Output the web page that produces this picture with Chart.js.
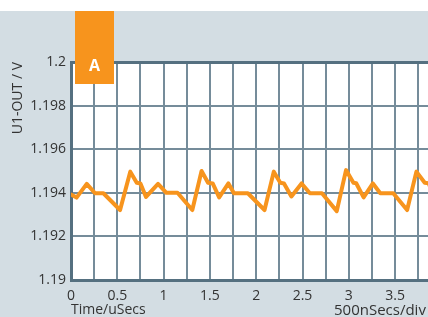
<!DOCTYPE html>
<html>
<head>
<meta charset="utf-8">
<script src="https://cdn.jsdelivr.net/npm/chart.js@4.4.0/dist/chart.umd.min.js"></script>
<style>
  html, body { margin: 0; padding: 0; background: #ffffff; overflow: hidden; width: 428px; height: 317px; }
  #wrap { position: absolute; left: 0; top: 0; width: 560px; height: 317px; }
  canvas { display: block; }
</style>
</head>
<body>
<div id="wrap"><canvas id="c" width="560" height="317"></canvas></div>
<script>
// ---- data ----
const times = [0.00, 0.06, 0.17, 0.26, 0.35, 0.53, 0.64, 0.71, 0.75, 0.81,
               0.94, 1.03, 1.15, 1.31, 1.41, 1.48, 1.53, 1.60, 1.70,
               1.76, 1.91, 2.09, 2.19, 2.26, 2.30, 2.38, 2.49,
               2.58, 2.71, 2.87, 2.97, 3.05, 3.08, 3.16, 3.26,
               3.34, 3.48, 3.63, 3.73, 3.82, 3.86, 3.93, 4.03];
const volts = [1.19392, 1.19378, 1.19441, 1.19398, 1.19398, 1.19321, 1.19497, 1.19446, 1.19443, 1.19381,
               1.19441, 1.19400, 1.19400, 1.19321, 1.19500, 1.19446, 1.19443, 1.19379, 1.19443,
               1.19398, 1.19398, 1.19321, 1.19497, 1.19446, 1.19443, 1.19383, 1.19443,
               1.19398, 1.19398, 1.19316, 1.19504, 1.19446, 1.19444, 1.19379, 1.19443,
               1.19398, 1.19398, 1.19321, 1.19497, 1.19446, 1.19444, 1.19380, 1.19443];
const xTickLabels = ['0', '0.5', '1', '1.5', '2', '2.5', '3', '3.5', '4', '4.5', '5'];
const yTickLabels = ['1.19', '1.192', '1.194', '1.196', '1.198', '1.2'];
const xTitle = 'Time/uSecs';
const xTitleRight = '500nSecs/div';
const yTitle = 'U1-OUT / V';
const markerLabel = 'A';

const ORANGE = '#f7941d';
const FRAME = '#557080';
const GRID = '#758c9a';
const TEXT = '#333333';
const BG = '#d3dde3';
const FONT = "'Open Sans', 'Noto Sans', sans-serif";

const points = times.map((t, i) => ({ x: t, y: volts[i] }));

const decor = {
  id: 'decor',
  beforeDraw(chart) {
    const ctx = chart.ctx;
    const a = chart.chartArea;
    ctx.save();
    ctx.fillStyle = '#ffffff';
    ctx.fillRect(0, 0, chart.width, chart.height);
    ctx.fillStyle = BG;
    ctx.fillRect(0, 11, chart.width, chart.height - 11);
    ctx.fillStyle = '#ffffff';
    ctx.fillRect(a.left, a.top, a.right - a.left, a.bottom - a.top);
    ctx.restore();
  },
  afterDraw(chart) {
    const ctx = chart.ctx;
    ctx.save();
    // marker box
    ctx.fillStyle = ORANGE;
    ctx.fillRect(75, 11, 39, 73);
    ctx.fillStyle = '#ffffff';
    ctx.font = "bold 16px " + FONT;
    ctx.textAlign = 'center';
    ctx.textBaseline = 'middle';
    ctx.fillText(markerLabel, 94.5, 66);
    // right x caption
    ctx.fillStyle = TEXT;
    ctx.font = "15px " + FONT;
    ctx.textAlign = 'left';
    ctx.textBaseline = 'alphabetic';
    ctx.fillText(xTitleRight, 334, 315);
    ctx.restore();
  }
};

new Chart(document.getElementById('c'), {
  type: 'line',
  data: {
    datasets: [{
      data: points,
      borderColor: ORANGE,
      borderWidth: 4,
      pointRadius: 0,
      tension: 0,
      fill: false,
      borderJoinStyle: 'round',
      borderCapStyle: 'round'
    }]
  },
  options: {
    responsive: false,
    animation: false,
    devicePixelRatio: 1,
    layout: { padding: { top: 62, left: 0, right: 26, bottom: 0 } },
    plugins: { legend: { display: false }, tooltip: { enabled: false } },
    scales: {
      x: {
        type: 'linear',
        min: 0, max: 5,
        afterFit(s) { s.height = 37; },
        ticks: {
          stepSize: 0.25,
          autoSkip: false,
          maxRotation: 0,
          padding: 8,
          color: TEXT,
          font: { family: FONT, size: 14 },
          callback(v, i) { return i % 2 === 0 ? xTickLabels[i / 2] : ''; }
        },
        grid: { color: GRID, lineWidth: 2, drawTicks: false },
        border: { color: FRAME, width: 3 },
        title: {
          display: true, text: xTitle, align: 'start', color: TEXT,
          font: { family: FONT, size: 14, lineHeight: 1.0 },
          padding: { top: 0, bottom: 0 }
        }
      },
      y: {
        min: 1.19, max: 1.2,
        afterFit(s) { s.width = 71; },
        ticks: {
          stepSize: 0.002,
          padding: 5,
          color: TEXT,
          font: { family: FONT, size: 14 },
          callback(v, i) { return yTickLabels[i]; }
        },
        grid: {
          drawTicks: false,
          color: (c) => (c.index === 5 ? FRAME : GRID),
          lineWidth: (c) => (c.index === 5 ? 3 : 2)
        },
        border: { color: FRAME, width: 3 },
        title: {
          display: true, text: yTitle, align: 'end', color: TEXT,
          font: { family: FONT, size: 14 },
          padding: { top: 10, bottom: 0 }
        }
      }
    }
  },
  plugins: [decor]
});
</script>
</body>
</html>
